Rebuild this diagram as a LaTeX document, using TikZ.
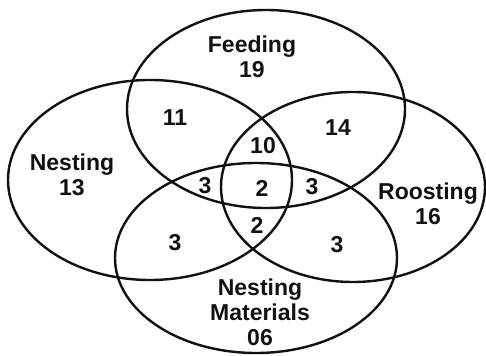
\documentclass[tikz,border=0pt]{standalone}
\usepackage{fontspec}
\setmainfont{Liberation Sans}
\definecolor{cInk}{HTML}{111111}
\tikzset{
  set/.style  = {draw=cInk, line width=1.2pt},
  lbl/.style  = {font=\fontsize{11.5}{12.5}\selectfont\bfseries, text=cInk,
                 align=center, inner sep=0pt},
}

\begin{document}
\begin{tikzpicture}[x=0.5pt, y=-0.5pt]
  \useasboundingbox (0,0) rectangle (486,356);
  % the four sets
  \draw[set] (266,109) ellipse [x radius=139, y radius=99];  % feeding
  \draw[set] (150,180) ellipse [x radius=142, y radius=100]; % nesting
  \draw[set] (353,187) ellipse [x radius=132, y radius=95];  % roosting
  \draw[set] (256,258) ellipse [x radius=141, y radius=95];  % materials
  % set names
  \node[lbl] (feed) at (252,57)  {Feeding\\19};
  \node[lbl] (nest) at (72,175)  {Nesting\\13};
  \node[lbl] (roost) at (428,204) {Roosting\\16};
  \node[lbl] (mat) at (260,312)  {Nesting\\Materials\\06};
  % overlaps
  \node[lbl] (fn)   at (175,118) {11};
  \node[lbl] (fr)   at (338,128) {14};
  \node[lbl] (fnr)  at (263,146) {10};
  \node[lbl] (fnm)  at (205,186) {3};
  \node[lbl] (all)  at (262,188) {2};
  \node[lbl] (frm)  at (312,187) {3};
  \node[lbl] (nrm)  at (257,225) {2};
  \node[lbl] (nm)   at (175,243) {3};
  \node[lbl] (rm)   at (337,245) {3};
\end{tikzpicture}
\end{document}
